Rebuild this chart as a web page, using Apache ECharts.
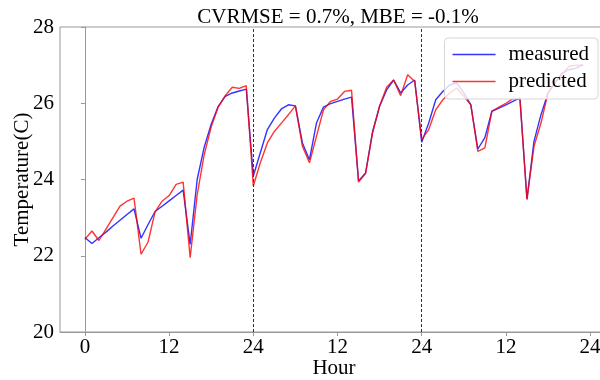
<!DOCTYPE html>
<html>
<head>
<meta charset="utf-8">
<script src="https://cdn.jsdelivr.net/npm/echarts@6/dist/echarts.min.js"></script>
<style>
  html, body { margin: 0; padding: 0; background: #fff; }
  #main { width: 600px; height: 380px; }
</style>
</head>
<body>
<div id="main"></div>
<script>
// three days of hourly values, hour index = position in the array
const measured = [
  22.48, 22.32, 22.47, 22.62, 22.78, 22.93, 23.08, 23.23, 22.46, 22.82, 23.16, 23.30,
  23.44, 23.58, 23.72, 22.30, 24.00, 24.85, 25.45, 25.92, 26.18, 26.27, 26.32, 26.37,
  24.09, 24.70, 25.31, 25.61, 25.85, 25.96, 25.93, 24.96, 24.52, 25.48, 25.90, 25.99,
  26.05, 26.11, 26.16, 23.96, 24.17, 25.26, 25.92, 26.35, 26.61, 26.27, 26.48, 26.61,
  24.98, 25.48, 26.09, 26.31, 26.48, 26.53, 26.27, 25.96, 24.80, 25.10, 25.79, 25.87,
  25.96, 26.05, 26.14, 23.48, 25.00, 25.70, 26.27, 26.53, 26.79, 26.88, 26.92, 27.01
]
const predicted = [
  22.43, 22.65, 22.40, 22.70, 23.00, 23.30, 23.43, 23.51, 22.04, 22.36, 23.15, 23.43,
  23.58, 23.87, 23.93, 21.95, 23.60, 24.65, 25.38, 25.90, 26.20, 26.42, 26.39, 26.46,
  23.83, 24.44, 24.96, 25.26, 25.48, 25.70, 25.93, 24.87, 24.44, 25.13, 25.83, 26.05,
  26.11, 26.31, 26.34, 23.93, 24.16, 25.22, 25.93, 26.42, 26.61, 26.20, 26.75, 26.57,
  25.05, 25.31, 25.83, 26.09, 26.27, 26.40, 26.18, 25.96, 24.74, 24.83, 25.79, 25.90,
  26.00, 26.12, 26.10, 23.48, 24.87, 25.48, 26.27, 26.57, 26.75, 26.97, 27.00, 27.00
]
const xTicks = [0, 12, 24, 36, 48, 60, 72]
const xTickLabels = ['0', '12', '24', '12', '24', '12', '24']
const dayBreaks = [24, 48]

const font = 'Liberation Serif'

let chart = echarts.init(document.getElementById('main'))

let option = {
  animation: false,
  title: {
    text: 'CVRMSE = 0.7%, MBE = -0.1%',
    left: 333,
    textAlign: 'center',
    top: 2,
    textStyle: { fontFamily: font, fontSize: 21, fontWeight: 'normal', color: '#000' }
  },
  legend: {
    orient: 'vertical',
    right: 2,
    top: 38,
    data: ['measured', 'predicted'],
    icon: 'rect',
    itemWidth: 43,
    itemHeight: 1.5,
    itemGap: 6,
    padding: [6, 9, 7, 8],
    backgroundColor: 'rgba(255,255,255,0.8)',
    borderColor: '#d6d6d6',
    borderWidth: 1,
    borderRadius: 4,
    textStyle: { fontFamily: font, fontSize: 21, color: '#000', padding: [0, 0, 0, 8] }
  },
  grid: {
    left: 60, right: -8, top: 27, bottom: 48,
    outerBoundsMode: 'none',
    show: true, borderColor: '#999', borderWidth: 1
  },
  xAxis: {
    type: 'value',
    min: -3.55,
    max: 74.55,
    name: 'Hour',
    nameLocation: 'middle',
    nameGap: 26,
    nameMoveOverlap: false,
    nameTextStyle: { fontFamily: font, fontSize: 21, color: '#000' },
    splitLine: { show: false },
    axisLine: { show: true, lineStyle: { color: '#999' } },
    axisTick: { show: true, customValues: xTicks, length: 4, lineStyle: { color: '#999' } },
    axisLabel: {
      customValues: xTicks,
      formatter: v => xTickLabels[xTicks.indexOf(v)],
      fontFamily: font, fontSize: 21, color: '#000', margin: 5
    }
  },
  yAxis: {
    type: 'value',
    min: 20,
    max: 28,
    interval: 2,
    name: 'Temperature(C)',
    nameLocation: 'middle',
    nameGap: 27,
    nameMoveOverlap: false,
    nameTextStyle: { fontFamily: font, fontSize: 21, color: '#000' },
    splitLine: { show: false },
    axisLine: { show: true, lineStyle: { color: '#999' } },
    axisTick: { show: true, length: 4, lineStyle: { color: '#999' } },
    axisLabel: { fontFamily: font, fontSize: 21, color: '#000', margin: 6 }
  },
  series: [
    {
      name: 'measured',
      type: 'line',
      data: measured.map((v, i) => [i, v]),
      showSymbol: false,
      color: 'rgba(0,0,255,0.8)',
      lineStyle: { width: 1.4 },
      markLine: {
        silent: true,
        symbol: 'none',
        label: { show: false },
        lineStyle: { color: '#333', type: [3, 2], width: 1 },
        data: dayBreaks.map(d => ({ xAxis: d }))
      }
    },
    {
      name: 'predicted',
      type: 'line',
      data: predicted.map((v, i) => [i, v]),
      showSymbol: false,
      color: 'rgba(255,0,0,0.8)',
      lineStyle: { width: 1.4 }
    }
  ]
}

chart.setOption(option)
</script>
</body>
</html>
